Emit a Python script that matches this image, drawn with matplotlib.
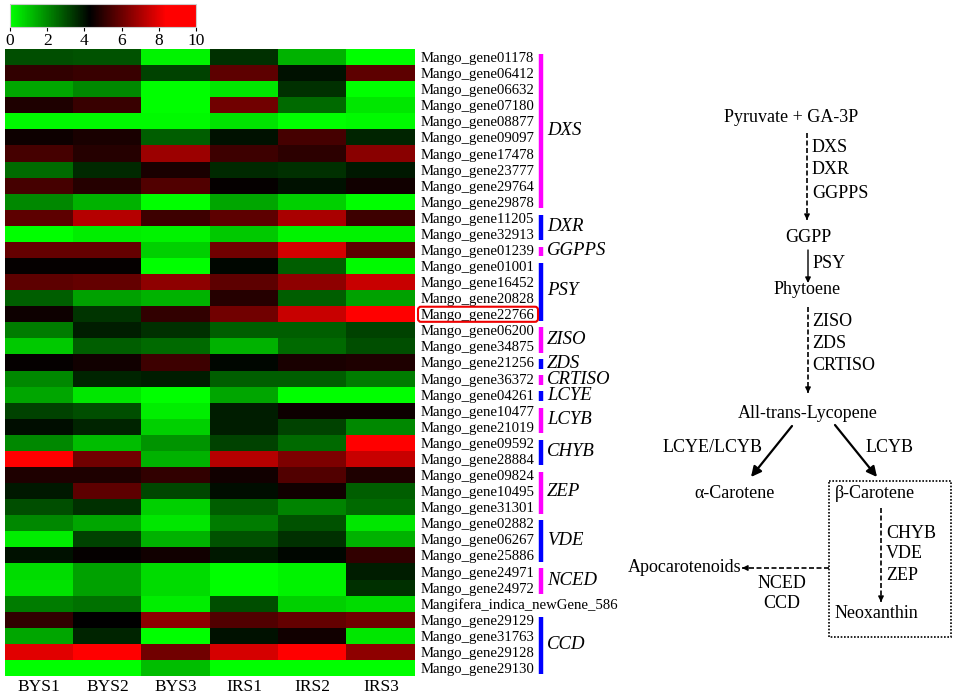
import numpy as np
import matplotlib
matplotlib.use('Agg')
import matplotlib as mpl
import matplotlib.pyplot as plt
from matplotlib.colors import LinearSegmentedColormap, Normalize
from matplotlib.patches import FancyBboxPatch, Rectangle
from matplotlib.transforms import blended_transform_factory

plt.rcParams['font.family'] = ['Liberation Serif', 'DejaVu Serif']

# данные тепловой карты
samples = ['BYS1', 'BYS2', 'BYS3', 'IRS1', 'IRS2', 'IRS3']
genes = ['Mango_gene01178', 'Mango_gene06412', 'Mango_gene06632', 'Mango_gene07180',
         'Mango_gene08877', 'Mango_gene09097', 'Mango_gene17478', 'Mango_gene23777',
         'Mango_gene29764', 'Mango_gene29878', 'Mango_gene11205', 'Mango_gene32913',
         'Mango_gene01239', 'Mango_gene01001', 'Mango_gene16452', 'Mango_gene20828',
         'Mango_gene22766', 'Mango_gene06200', 'Mango_gene34875', 'Mango_gene21256',
         'Mango_gene36372', 'Mango_gene04261', 'Mango_gene10477', 'Mango_gene21019',
         'Mango_gene09592', 'Mango_gene28884', 'Mango_gene09824', 'Mango_gene10495',
         'Mango_gene31301', 'Mango_gene02882', 'Mango_gene06267', 'Mango_gene25886',
         'Mango_gene24971', 'Mango_gene24972', 'Mangifera_indica_newGene_586',
         'Mango_gene29129', 'Mango_gene31763', 'Mango_gene29128', 'Mango_gene29130']
expr = [
    [3.0, 2.9, 0.2, 3.5, 1.3, 0.0],
    [5.1, 5.2, 3.2, 5.8, 4.0, 5.8],
    [1.5, 2.0, 0.0, 0.4, 3.5, 0.0],
    [4.8, 5.2, 0.0, 6.1, 2.5, 0.4],
    [0.1, 0.1, 0.1, 0.5, 0.0, 0.1],
    [4.5, 4.7, 2.7, 4.0, 5.4, 3.7],
    [5.4, 4.9, 6.8, 5.3, 5.0, 6.5],
    [2.5, 3.6, 4.7, 3.6, 3.5, 3.9],
    [5.4, 4.9, 5.6, 4.4, 4.0, 4.6],
    [2.0, 1.3, 0.0, 1.5, 0.8, 0.0],
    [5.8, 7.2, 5.3, 5.8, 7.0, 5.3],
    [0.0, 0.3, 0.2, 0.9, 0.2, 0.2],
    [5.9, 5.9, 0.8, 6.1, 7.7, 5.8],
    [4.4, 4.4, 0.0, 4.2, 2.7, 0.1],
    [5.8, 5.9, 6.6, 5.8, 6.6, 7.5],
    [2.7, 1.6, 1.3, 4.9, 2.7, 1.6],
    [4.5, 3.4, 5.1, 6.1, 7.5, 9.5],
    [2.2, 3.8, 3.5, 2.7, 2.7, 3.2],
    [0.9, 2.7, 2.5, 1.3, 2.5, 3.0],
    [4.4, 4.6, 5.3, 4.2, 4.7, 4.8],
    [2.0, 3.7, 3.8, 2.7, 2.7, 2.2],
    [1.5, 0.4, 0.0, 1.5, 0.0, 0.0],
    [3.2, 3.0, 0.3, 3.8, 4.5, 4.5],
    [4.1, 3.7, 0.8, 3.8, 3.2, 2.0],
    [2.0, 1.1, 1.8, 3.2, 2.5, 8.4],
    [8.6, 6.1, 1.3, 7.2, 6.3, 7.5],
    [4.8, 4.8, 5.1, 4.6, 5.6, 4.8],
    [3.9, 5.8, 3.1, 4.1, 4.6, 2.7],
    [3.0, 3.5, 0.8, 2.7, 2.1, 2.5],
    [2.0, 1.5, 0.4, 2.2, 2.9, 0.4],
    [0.3, 3.2, 1.3, 2.9, 3.5, 1.3],
    [4.0, 4.4, 4.6, 3.9, 4.2, 5.1],
    [0.6, 1.6, 0.6, 0.0, 0.2, 3.8],
    [0.5, 1.6, 0.6, 0.0, 0.2, 3.5],
    [2.2, 2.4, 0.3, 3.0, 0.8, 0.6],
    [5.1, 4.3, 6.6, 5.6, 5.9, 6.1],
    [1.5, 3.7, 0.0, 4.0, 4.6, 0.4],
    [7.9, 9.5, 6.1, 7.7, 9.5, 6.6],
    [0.0, 0.0, 1.1, 0.0, 0.0, 0.0],
]

# группы генов (первая и последняя строка)
group_names = ['DXS', 'DXR', 'GGPPS', 'PSY', 'ZISO', 'ZDS', 'CRTISO',
               'LCYE', 'LCYB', 'CHYB', 'ZEP', 'VDE', 'NCED', 'CCD']
group_first = [0, 10, 12, 13, 17, 19, 20, 21, 22, 24, 26, 29, 32, 35]
group_last = [9, 11, 12, 16, 18, 19, 20, 21, 23, 25, 28, 31, 33, 38]
highlight_gene = 'Mango_gene22766'

W, H = 957, 695
fig = plt.figure(figsize=(W / 100, H / 100), dpi=100)


def px_axes(x0, y0, x1, y1):
    return fig.add_axes([x0 / W, 1 - y1 / H, (x1 - x0) / W, (y1 - y0) / H])


cmap = LinearSegmentedColormap.from_list(
    'gbr', [(0.0, (0, 1, 0)), (0.43, (0, 0, 0)), (0.84, (1, 0, 0)), (1.0, (1, 0, 0))])

# 🔹 тепловая карта
ax = px_axes(5, 49, 415, 676)
ax.imshow(np.array(expr), cmap=cmap, vmin=0, vmax=10, aspect='auto',
          interpolation='nearest')
ax.set_xticks(range(len(samples)))
ax.set_xticklabels(samples, fontsize=12.5)
ax.set_yticks(range(len(genes)))
ax.set_yticklabels(genes, fontsize=10.6)
ax.yaxis.tick_right()
ax.tick_params(axis='y', length=0, pad=4)
ax.tick_params(axis='x', length=0, pad=2)
for s in ax.spines.values():
    s.set_visible(False)

# скобки с названиями ферментов
tr = blended_transform_factory(ax.transAxes, ax.transData)
for k, name in enumerate(group_names):
    a, b = group_first[k], group_last[k]
    col = '#ff00ff' if k % 2 == 0 else '#0000ff'
    ax.plot([1.307, 1.307], [a - 0.5 + 0.3, b + 0.5 - 0.1], color=col, lw=3.2,
            solid_capstyle='butt', transform=tr, clip_on=False)
    ax.text(1.322, (a + b) / 2 + 0.05, name, style='italic', fontsize=13.5,
            va='center', ha='left', transform=tr)

# шкала цветов
cax = px_axes(10, 4, 196, 27)
cb = mpl.colorbar.ColorbarBase(cax, cmap=cmap, norm=Normalize(0, 10),
                               orientation='horizontal', ticks=range(0, 11, 2))
cb.outline.set_edgecolor('#cccccc')
cax.tick_params(labelsize=12.5, length=3, pad=1)

# 🔹 схема биосинтеза (в пикселях)
ov = fig.add_axes([0, 0, 1, 1])
ov.set_xlim(0, W)
ov.set_ylim(H, 0)
ov.axis('off')

row_h = (676 - 49) / len(genes)
hy = 49 + genes.index(highlight_gene) * row_h
ov.add_patch(FancyBboxPatch((418, hy + 0.5), 120, row_h - 1,
                            boxstyle='round,pad=0,rounding_size=3',
                            fc='none', ec='#ee0000', lw=1.5))

fs = 13


def dashed_arrow(x0, y0, x1, y1):
    ov.plot([x0, x1], [y0, y1], color='black', lw=1.2, linestyle=(0, (3, 1.5)))
    dx, dy = x1 - x0, y1 - y0
    L = np.hypot(dx, dy)
    ov.annotate('', xy=(x1, y1), xytext=(x1 - 6 * dx / L, y1 - 6 * dy / L),
                arrowprops=dict(arrowstyle='-|>', color='black', lw=1,
                                mutation_scale=8, shrinkA=0, shrinkB=0))


def solid_arrow(x0, y0, x1, y1, ms=10, lw=1.2):
    ov.annotate('', xy=(x1, y1), xytext=(x0, y0),
                arrowprops=dict(arrowstyle='-|>', color='black', lw=lw,
                                mutation_scale=ms, shrinkA=0, shrinkB=0))


ov.text(791, 117, 'Pyruvate + GA-3P', fontsize=fs, ha='center', va='center')
dashed_arrow(807, 133, 807, 220)
for t, y in zip(['DXS', 'DXR', 'GGPPS'], [147, 169, 193]):
    ov.text(812, y, t, fontsize=fs, ha='left', va='center')
ov.text(808, 238, 'GGPP', fontsize=fs, ha='center', va='center')
solid_arrow(808, 250, 808, 283, ms=8, lw=1)
ov.text(813, 263, 'PSY', fontsize=fs, ha='left', va='center')
ov.text(807, 290, 'Phytoene', fontsize=fs, ha='center', va='center')
dashed_arrow(808, 307, 808, 393)
for t, y in zip(['ZISO', 'ZDS', 'CRTISO'], [322, 343, 365]):
    ov.text(812, y, t, fontsize=fs, ha='left', va='center')
ov.text(808, 413, 'All-trans-Lycopene', fontsize=fs, ha='center', va='center')

solid_arrow(792, 426, 751, 477, ms=15, lw=1.6)
solid_arrow(835, 425, 877, 477, ms=15, lw=1.6)
ov.text(713, 448, 'LCYE/LCYB', fontsize=fs, ha='center', va='center')
ov.text(890, 448, 'LCYB', fontsize=fs, ha='center', va='center')
ov.text(735, 493, 'α-Carotene', fontsize=fs, ha='center', va='center')
ov.text(835, 493, 'β-Carotene', fontsize=fs, ha='left', va='center')

ov.add_patch(Rectangle((829, 481), 122, 156, fill=False, ec='black', lw=1.2,
                       linestyle=(0, (1, 1))))
dashed_arrow(881, 508, 881, 602)
for t, y in zip(['CHYB', 'VDE', 'ZEP'], [533, 554, 575]):
    ov.text(886, y, t, fontsize=fs, ha='left', va='center')
ov.text(835, 613, 'Neoxanthin', fontsize=fs, ha='left', va='center')

dashed_arrow(829, 568, 742, 568)
ov.text(741, 568, 'Apocarotenoids', fontsize=fs, ha='right', va='center')
ov.text(782, 583, 'NCED', fontsize=fs, ha='center', va='center')
ov.text(782, 604, 'CCD', fontsize=fs, ha='center', va='center')

plt.savefig('out.png', dpi=100)
